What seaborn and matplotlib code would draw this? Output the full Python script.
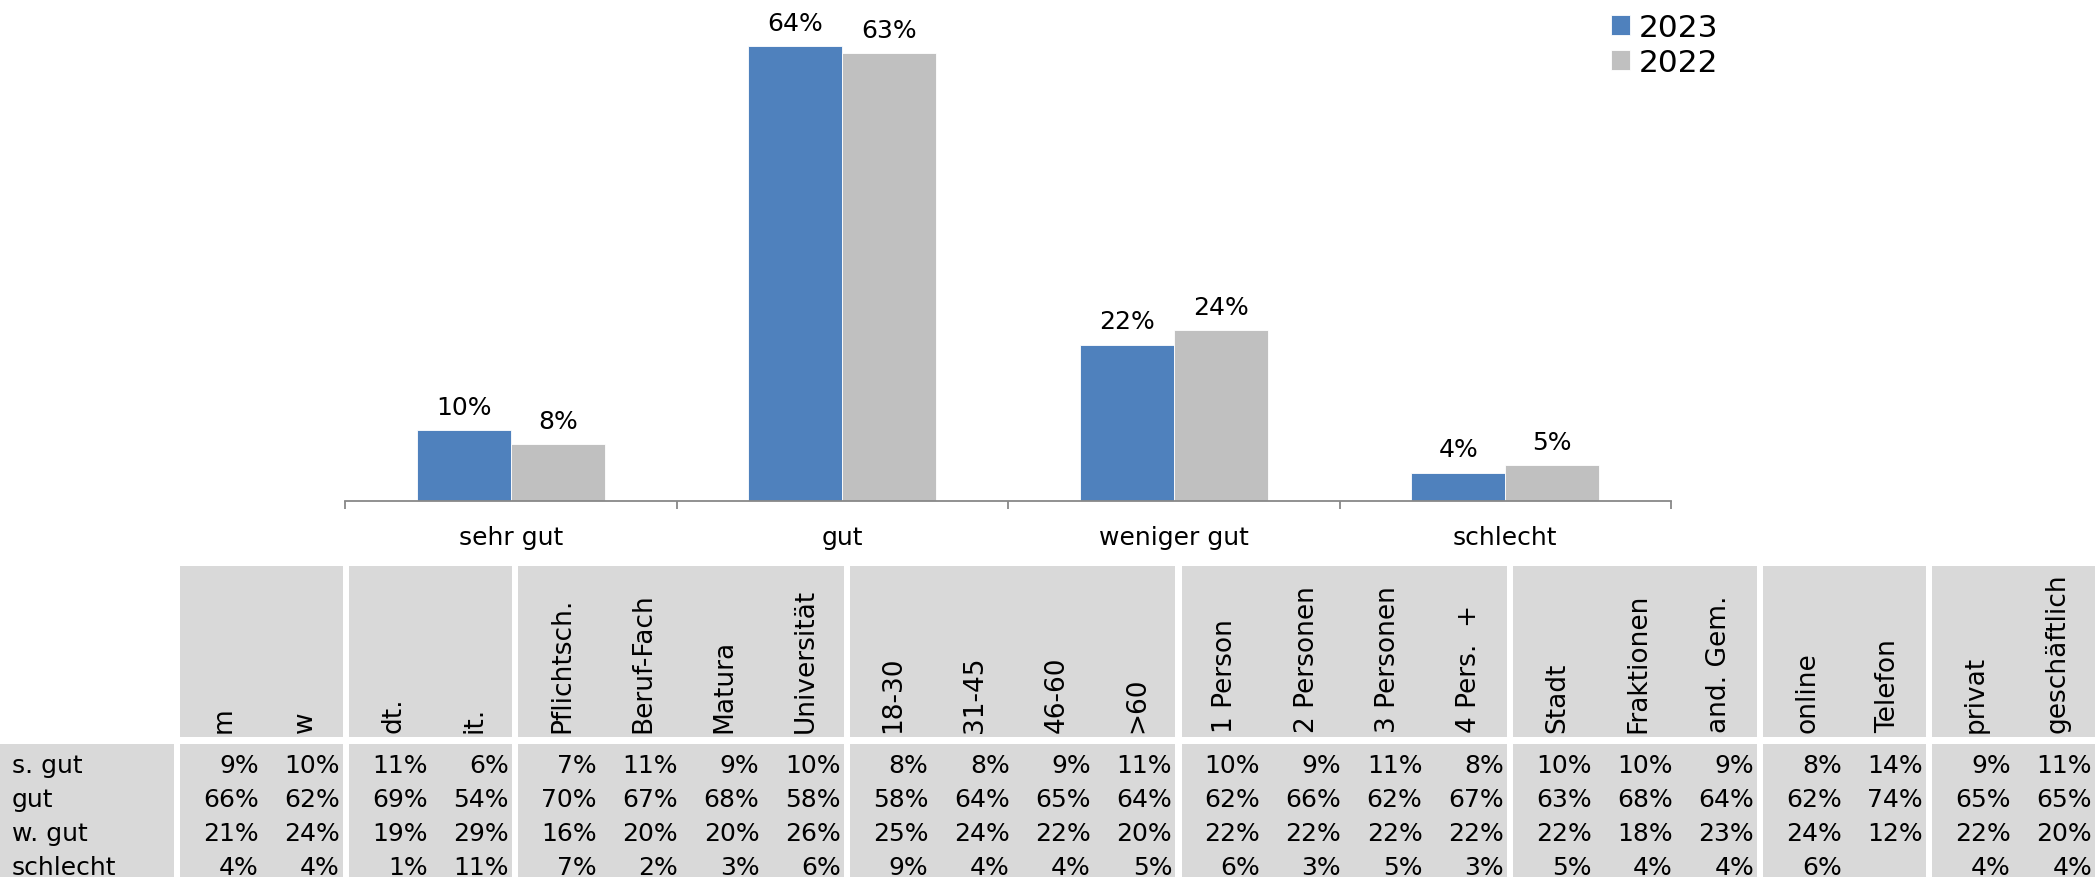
import seaborn as sns
import matplotlib.pyplot as plt
import pandas as pd
from matplotlib.patches import Rectangle

# chart data
categories = ["sehr gut", "gut", "weniger gut", "schlecht"]
years = ["2023", "2022"]
values_2023 = [10, 64, 22, 4]
values_2022 = [8, 63, 24, 5]

# table data
row_labels = ["s. gut", "gut", "w. gut", "schlecht"]
col_groups = [
    ["m", "w"],
    ["dt.", "it."],
    ["Pflichtsch.", "Beruf-Fach", "Matura", "Universität"],
    ["18-30", "31-45", "46-60", ">60"],
    ["1 Person", "2 Personen", "3 Personen", "4 Pers.  +"],
    ["Stadt", "Fraktionen", "and. Gem."],
    ["online", "Telefon"],
    ["privat", "geschäftlich"],
]
row_sgut = [9, 10, 11, 6, 7, 11, 9, 10, 8, 8, 9, 11, 10, 9, 11, 8, 10, 10, 9, 8, 14, 9, 11]
row_gut = [66, 62, 69, 54, 70, 67, 68, 58, 58, 64, 65, 64, 62, 66, 62, 67, 63, 68, 64, 62, 74, 65, 65]
row_wgut = [21, 24, 19, 29, 16, 20, 20, 26, 25, 24, 22, 20, 22, 22, 22, 22, 22, 18, 23, 24, 12, 22, 20]
row_schlecht = [4, 4, 1, 11, 7, 2, 3, 6, 9, 4, 4, 5, 6, 3, 5, 3, 5, 4, 4, 6, None, 4, 4]
table_rows = [row_sgut, row_gut, row_wgut, row_schlecht]

sns.set_theme(style="white")
plt.rcParams['font.family'] = ['DejaVu Sans']
plt.rcParams['text.color'] = 'black'

W, H = 2095, 878
fig = plt.figure(figsize=(W / 100, H / 100), dpi=100)

# ---- table (pixel coordinates) ----
tab = fig.add_axes([0, 0, 1, 1])
tab.set_xlim(0, W)
tab.set_ylim(H, 0)
tab.axis('off')
cell_grey = "#D9D9D9"
label_w, col_w, gap = 174, 81.3, 6.39
head_top, head_bot = 567, 738
data_top, data_bot = 745, H
base_y0, row_pitch = 773, 33.9
fs = 18

tab.add_patch(Rectangle((0, data_top), label_w, data_bot - data_top, color=cell_grey, lw=0))
for i, lab in enumerate(row_labels):
    tab.text(12, base_y0 + i * row_pitch, lab, ha='left', va='baseline', fontsize=fs)

x = label_w
ci = 0
for grp in col_groups:
    x += gap
    gw = col_w * len(grp)
    tab.add_patch(Rectangle((x, head_top), gw, head_bot - head_top, color=cell_grey, lw=0))
    tab.add_patch(Rectangle((x, data_top), gw, data_bot - data_top, color=cell_grey, lw=0))
    for j, name in enumerate(grp):
        cx = x + col_w * (j + 0.5)
        tab.text(cx + 3, head_bot - 5, name, rotation=90, ha='center', va='bottom', fontsize=19)
        for i, row in enumerate(table_rows):
            v = row[ci]
            if v is not None:
                tab.text(x + col_w * (j + 1) - 3, base_y0 + i * row_pitch, f"{v}%",
                         ha='right', va='baseline', fontsize=fs)
        ci += 1
    x += gw

# ---- bar chart ----
df = pd.DataFrame({
    "Bewertung": categories * 2,
    "Jahr": [years[0]] * 4 + [years[1]] * 4,
    "Anteil": values_2023 + values_2022,
})
ax = fig.add_axes([345 / W, 376 / H, 1326 / W, 502 / H])
ax.patch.set_alpha(0)
sns.barplot(data=df, x="Bewertung", y="Anteil", hue="Jahr", order=categories,
            hue_order=years, palette=["#4F81BD", "#C0C0C0"], saturation=1,
            width=0.567, edgecolor="white", linewidth=0.6, ax=ax)
for cont, vals in zip(ax.containers, [values_2023, values_2022]):
    ax.bar_label(cont, labels=[f"{v}%" for v in vals], padding=8, fontsize=18, color='black')

ax.set_ylim(0, 70.6)
ax.set_xlim(-0.5, 3.5)
ax.set_yticks([])
ax.set_xlabel("")
ax.set_ylabel("")
ax.set_xticks(range(len(categories)))
ax.set_xticklabels(categories, fontsize=18)
ax.set_xticks([k - 0.5 for k in range(len(categories) + 1)], minor=True)
ax.tick_params(axis='x', which='major', length=0, pad=17.5, labelcolor='black')
ax.tick_params(axis='x', which='minor', length=6, width=1.3, color="#888888", bottom=True)
for s in ["left", "top", "right"]:
    ax.spines[s].set_visible(False)
ax.spines["bottom"].set_color("#888888")
ax.spines["bottom"].set_linewidth(1.3)

handles, labels = ax.get_legend_handles_labels()
ax.get_legend().remove()
fig.legend(handles, labels, loc='upper left', bbox_to_anchor=(1611 / W, 1 - 14 / H),
           frameon=False, fontsize=22.5, handlelength=0.6, handleheight=0.6,
           handletextpad=0.3, labelspacing=0.2, borderpad=0, borderaxespad=0)

fig.savefig("out.png", dpi=100)
